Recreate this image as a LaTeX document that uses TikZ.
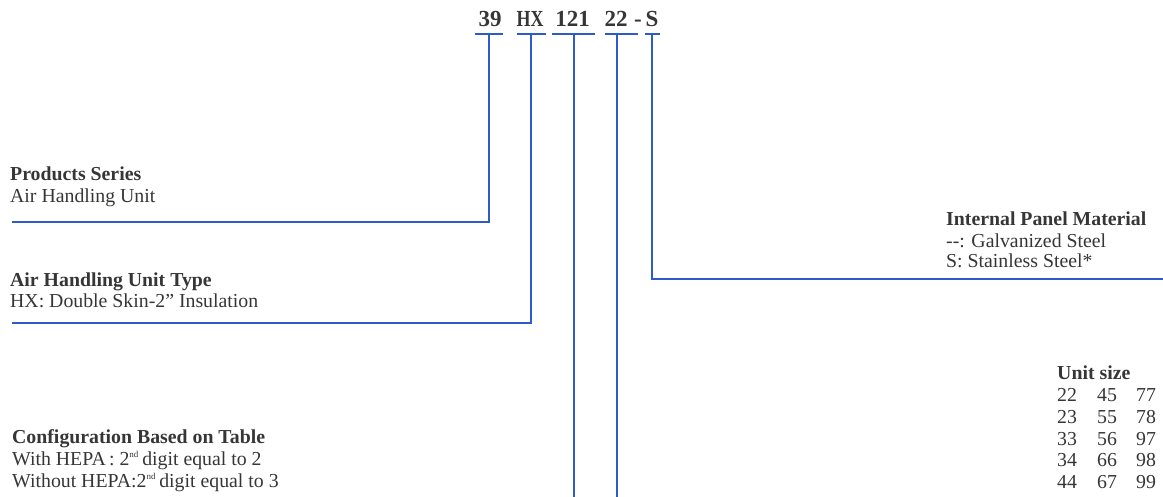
\documentclass[tikz,border=0pt]{standalone}
\usepackage{graphicx}
\usepackage{fontspec}
\setmainfont{Liberation Serif}
\definecolor{txtgray}{HTML}{363636}
\definecolor{lnblue}{HTML}{2D5BC8}
\begin{document}
\begin{tikzpicture}[x=1pt,y=-1pt,
  lbl/.style={anchor=base west,inner sep=0pt,text=txtgray,font=\fontsize{19.8}{22}\selectfont},
  lblb/.style={lbl,font=\fontsize{19.8}{22}\selectfont\bfseries},
  hdr/.style={anchor=base,inner sep=0pt,text=txtgray,font=\fontsize{23}{26}\selectfont\bfseries},
  conn/.style={draw=lnblue,line width=1.4pt}]
\useasboundingbox (0,0) rectangle (1163,497);

% header code
\node[hdr] (h39)  at (490,27) {39};
\node[hdr] (hHX)  at (530,27) {\scalebox{0.78}[1]{HX}};
\node[hdr] (h121) at (572.5,27) {121};
\node[hdr] (h22)  at (616,27) {22};
\node[hdr] (hdash) at (638,27) {-};
\node[hdr] (hS)   at (652,27) {S};

% underline tops
\coordinate (t39)  at (489,34);
\coordinate (tHX)  at (531,34);
\coordinate (t121) at (574,34);
\coordinate (t22)  at (617,34);
\coordinate (tS)   at (652,34);

\draw[conn] ([xshift=-14pt]t39) -- ([xshift=14pt]t39);
\draw[conn] ([xshift=-14pt]tHX) -- ([xshift=15pt]tHX);
\draw[conn] ([xshift=-22pt]t121) -- ([xshift=21pt]t121);
\draw[conn] ([xshift=-12pt]t22) -- ([xshift=21pt]t22);
\draw[conn] ([xshift=-7pt]tS) -- ([xshift=8pt]tS);

% connector ends
\coordinate (e39)  at (12,222);
\coordinate (eHX)  at (12,323);
\coordinate (e121) at (574,500);
\coordinate (e22)  at (617,500);
\coordinate (eS)   at (1165,279);

\draw[conn] (t39) |- (e39);
\draw[conn] (tHX) |- (eHX);
\draw[conn] (t121) -- (e121);
\draw[conn] (t22) -- (e22);
\draw[conn] (tS) |- (eS);

% Products series
\node[lblb] (ps1) at (10,181) {Products Series};
\node[lbl]  (ps2) at (10,203) {Air Handling Unit};

% AHU type
\node[lblb] (ty1) at (10,287) {Air Handling Unit Type};
\node[lbl]  (ty2) at (10,308) {HX: Double Skin-2” Insulation};

% Configuration
\node[lblb] (cf1) at (12,443) {Configuration Based on Table};
\node[lbl]  (cf2) at (12,465) {With HEPA\,: 2\textsuperscript{\fontsize{9}{9}\selectfont nd}\,digit equal to 2};
\node[lbl]  (cf3) at (12,487) {Without HEPA:2\textsuperscript{\fontsize{9}{9}\selectfont nd}\,digit equal to 3};

% Internal panel
\node[lblb] (ip1) at (946,226) {Internal Panel Material};
\node[lbl]  (ip2) at (946,248) {-{}-: Galvanized Steel};
\node[lbl]  (ip3) at (946,268) {S: Stainless Steel*};

% Unit size
\node[lblb] (us) at (1057,379) {Unit size};
\foreach \a/\b/\c/\y [count=\r] in {22/45/77/401, 23/55/78/423, 33/56/97/445, 34/66/98/466, 44/67/99/488}{
  \node[lbl] (ua\r) at (1057,\y) {\a};
  \node[lbl] (ub\r) at (1097,\y) {\b};
  \node[lbl] (uc\r) at (1136,\y) {\c};
}
\end{tikzpicture}
\end{document}
